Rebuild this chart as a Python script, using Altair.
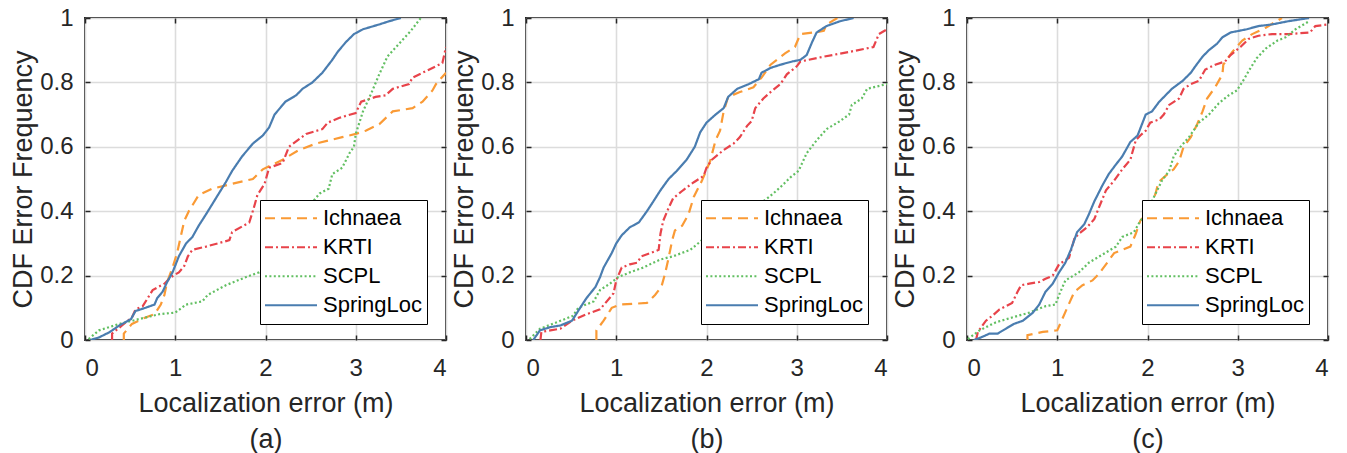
import altair as alt
import pandas as pd

SERIES = ["Ichnaea", "KRTI", "SCPL", "SpringLoc"]
COLORS = ["#FA9A35", "#E8434A", "#62BF62", "#4A7DB0"]
DASHES = [[10, 6], [8, 3, 2, 3], [2, 2.4], [1, 0]]
PANEL_TAGS = ["(a)", "(b)", "(c)"]
X_TICKS = [0, 1, 2, 3, 4]
Y_TICKS = [0, 0.2, 0.4, 0.6, 0.8, 1]

# ---- panel (a) ----
a_ich_x = [0.43, 0.43, 0.52, 0.67, 0.77, 0.84, 0.88, 0.91, 0.97, 1.02, 1.06, 1.10, 1.15, 1.26, 1.41, 1.63, 1.86, 1.97, 2.19, 2.37, 2.56, 2.85, 3.0, 3.11, 3.26, 3.41, 3.63, 3.74, 3.85, 3.89, 4.0]
a_ich_y = [0, 0.02, 0.05, 0.07, 0.08, 0.11, 0.14, 0.18, 0.225, 0.27, 0.32, 0.37, 0.40, 0.45, 0.47, 0.485, 0.50, 0.53, 0.56, 0.59, 0.61, 0.63, 0.64, 0.65, 0.67, 0.71, 0.72, 0.74, 0.775, 0.795, 0.83]
a_krti_x = [0.30, 0.30, 0.41, 0.52, 0.56, 0.64, 0.75, 0.88, 0.95, 1.04, 1.10, 1.14, 1.19, 1.34, 1.60, 1.63, 1.82, 1.87, 1.91, 1.99, 2.04, 2.19, 2.26, 2.45, 2.63, 2.69, 2.82, 3.0, 3.06, 3.22, 3.33, 3.41, 3.59, 3.63, 3.85, 3.96, 4.0]
a_krti_y = [0, 0.02, 0.045, 0.07, 0.095, 0.105, 0.155, 0.175, 0.195, 0.21, 0.23, 0.26, 0.28, 0.29, 0.31, 0.335, 0.365, 0.41, 0.45, 0.485, 0.535, 0.55, 0.60, 0.64, 0.655, 0.675, 0.69, 0.705, 0.74, 0.755, 0.76, 0.78, 0.795, 0.815, 0.845, 0.86, 0.91]
a_scpl_x = [0.04, 0.155, 0.38, 0.6, 0.82, 1.0, 1.12, 1.3, 1.36, 1.56, 1.78, 1.93, 2.0, 2.15, 2.3, 2.45, 2.54, 2.6, 2.7, 2.74, 2.85, 2.93, 2.98, 3.0, 3.08, 3.17, 3.26, 3.35, 3.48, 3.61, 3.72]
a_scpl_y = [0.003, 0.03, 0.05, 0.065, 0.08, 0.085, 0.11, 0.12, 0.14, 0.17, 0.195, 0.21, 0.235, 0.29, 0.35, 0.40, 0.435, 0.455, 0.47, 0.515, 0.535, 0.58, 0.60, 0.64, 0.71, 0.765, 0.825, 0.88, 0.92, 0.96, 1.0]
a_spr_x = [0.06, 0.155, 0.27, 0.38, 0.51, 0.56, 0.67, 0.77, 0.8, 0.86, 0.91, 0.97, 1.04, 1.12, 1.19, 1.26, 1.34, 1.45, 1.56, 1.63, 1.74, 1.86, 1.97, 2.04, 2.1, 2.22, 2.34, 2.41, 2.52, 2.63, 2.74, 2.8, 2.89, 2.98, 3.08, 3.26, 3.37, 3.5]
a_spr_y = [0, 0.008, 0.024, 0.045, 0.065, 0.09, 0.10, 0.11, 0.13, 0.15, 0.18, 0.21, 0.26, 0.30, 0.32, 0.355, 0.39, 0.44, 0.49, 0.525, 0.57, 0.61, 0.635, 0.66, 0.70, 0.74, 0.76, 0.78, 0.80, 0.83, 0.87, 0.895, 0.925, 0.95, 0.965, 0.98, 0.99, 1.0]

# ---- panel (b) ----
b_ich_x = [0.78, 0.78, 0.86, 0.95, 1.04, 1.34, 1.43, 1.5, 1.54, 1.58, 1.62, 1.65, 1.73, 1.8, 1.86, 1.95, 2.04, 2.1, 2.15, 2.19, 2.24, 2.37, 2.52, 2.61, 2.71, 2.87, 2.98, 3.04, 3.19, 3.3, 3.33, 3.45]
b_ich_y = [0, 0.03, 0.06, 0.10, 0.11, 0.115, 0.14, 0.165, 0.205, 0.255, 0.31, 0.34, 0.355, 0.39, 0.445, 0.495, 0.555, 0.62, 0.65, 0.71, 0.755, 0.77, 0.785, 0.815, 0.855, 0.89, 0.91, 0.95, 0.955, 0.96, 0.98, 1.0]
b_krti_x = [0.16, 0.17, 0.27, 0.38, 0.51, 0.67, 0.82, 0.97, 1.0, 1.06, 1.15, 1.23, 1.28, 1.38, 1.47, 1.49, 1.52, 1.58, 1.63, 1.74, 1.86, 1.97, 2.0, 2.06, 2.19, 2.3, 2.37, 2.45, 2.5, 2.54, 2.63, 2.71, 2.82, 2.89, 3.0, 3.04, 3.3, 3.59, 3.85, 3.91, 4.0]
b_krti_y = [0, 0.025, 0.03, 0.035, 0.06, 0.08, 0.095, 0.145, 0.185, 0.225, 0.235, 0.24, 0.26, 0.27, 0.28, 0.33, 0.37, 0.41, 0.44, 0.465, 0.49, 0.51, 0.535, 0.56, 0.59, 0.61, 0.63, 0.665, 0.68, 0.72, 0.75, 0.77, 0.795, 0.825, 0.85, 0.865, 0.88, 0.895, 0.91, 0.95, 0.965]
b_scpl_x = [0.04, 0.155, 0.34, 0.52, 0.58, 0.75, 0.82, 0.93, 1.02, 1.15, 1.3, 1.41, 1.49, 1.63, 1.82, 1.95, 2.2, 2.45, 2.65, 2.74, 2.82, 2.93, 3.02, 3.11, 3.22, 3.33, 3.48, 3.58, 3.61, 3.72, 3.78, 4.0]
b_scpl_y = [0.003, 0.035, 0.055, 0.075, 0.10, 0.12, 0.155, 0.175, 0.195, 0.21, 0.225, 0.24, 0.25, 0.26, 0.28, 0.31, 0.35, 0.40, 0.435, 0.455, 0.475, 0.505, 0.525, 0.58, 0.62, 0.655, 0.68, 0.70, 0.73, 0.75, 0.78, 0.795]
b_spr_x = [0.08, 0.155, 0.27, 0.38, 0.51, 0.6, 0.67, 0.77, 0.82, 0.86, 0.95, 1.0, 1.06, 1.15, 1.25, 1.34, 1.41, 1.49, 1.58, 1.67, 1.78, 1.87, 1.93, 2.0, 2.1, 2.19, 2.24, 2.34, 2.47, 2.58, 2.61, 2.71, 2.82, 2.95, 3.04, 3.11, 3.17, 3.22, 3.33, 3.48, 3.63]
b_spr_y = [0, 0.03, 0.04, 0.045, 0.06, 0.10, 0.13, 0.165, 0.195, 0.225, 0.27, 0.30, 0.325, 0.35, 0.365, 0.40, 0.43, 0.465, 0.50, 0.525, 0.56, 0.60, 0.645, 0.675, 0.70, 0.72, 0.755, 0.78, 0.795, 0.81, 0.83, 0.845, 0.855, 0.865, 0.87, 0.885, 0.925, 0.955, 0.975, 0.99, 1.0]

# ---- panel (c) ----
c_ich_x = [0.67, 0.67, 0.84, 1.0, 1.04, 1.11, 1.19, 1.28, 1.39, 1.46, 1.54, 1.63, 1.72, 1.81, 1.87, 1.92, 2.01, 2.09, 2.12, 2.2, 2.29, 2.35, 2.4, 2.48, 2.55, 2.61, 2.66, 2.75, 2.83, 2.84, 2.94, 3.05, 3.16, 3.31, 3.49]
c_ich_y = [0, 0.015, 0.025, 0.03, 0.055, 0.10, 0.15, 0.17, 0.185, 0.205, 0.235, 0.27, 0.28, 0.29, 0.33, 0.37, 0.40, 0.455, 0.49, 0.51, 0.53, 0.555, 0.60, 0.63, 0.67, 0.71, 0.75, 0.785, 0.825, 0.855, 0.895, 0.93, 0.95, 0.97, 1.0]
c_krti_x = [0.1, 0.12, 0.21, 0.28, 0.36, 0.43, 0.5, 0.56, 0.6, 0.69, 0.8, 0.87, 0.95, 1.02, 1.13, 1.19, 1.24, 1.33, 1.41, 1.46, 1.54, 1.63, 1.72, 1.81, 1.87, 1.92, 1.98, 2.03, 2.13, 2.18, 2.24, 2.35, 2.4, 2.48, 2.57, 2.64, 2.75, 2.86, 2.92, 3.03, 3.12, 3.23, 3.38, 3.56, 3.8, 3.86, 4.0]
c_krti_y = [0, 0.025, 0.06, 0.075, 0.095, 0.105, 0.115, 0.15, 0.17, 0.175, 0.18, 0.19, 0.20, 0.235, 0.255, 0.315, 0.33, 0.35, 0.375, 0.41, 0.465, 0.495, 0.53, 0.56, 0.62, 0.635, 0.65, 0.675, 0.685, 0.70, 0.73, 0.75, 0.78, 0.795, 0.805, 0.84, 0.855, 0.865, 0.885, 0.91, 0.935, 0.945, 0.95, 0.95, 0.955, 0.975, 0.98]
c_scpl_x = [0.01, 0.14, 0.32, 0.5, 0.69, 0.87, 0.98, 1.02, 1.09, 1.24, 1.35, 1.5, 1.65, 1.72, 1.85, 1.92, 1.99, 2.09, 2.16, 2.24, 2.29, 2.35, 2.46, 2.57, 2.68, 2.79, 2.9, 2.99, 3.07, 3.12, 3.21, 3.31, 3.44, 3.53, 3.64, 3.79]
c_scpl_y = [0.003, 0.03, 0.055, 0.07, 0.085, 0.105, 0.11, 0.14, 0.185, 0.21, 0.24, 0.265, 0.29, 0.32, 0.335, 0.37, 0.395, 0.455, 0.495, 0.525, 0.57, 0.595, 0.63, 0.675, 0.70, 0.735, 0.76, 0.775, 0.81, 0.835, 0.875, 0.905, 0.93, 0.94, 0.965, 0.99]
c_spr_x = [0.08, 0.155, 0.25, 0.34, 0.43, 0.52, 0.62, 0.73, 0.8, 0.87, 0.95, 1.02, 1.09, 1.15, 1.22, 1.3, 1.35, 1.41, 1.5, 1.57, 1.65, 1.72, 1.81, 1.89, 1.98, 2.05, 2.13, 2.2, 2.27, 2.39, 2.48, 2.53, 2.61, 2.68, 2.77, 2.83, 2.92, 3.01, 3.1, 3.23, 3.38, 3.56, 3.79]
c_spr_y = [0, 0.008, 0.02, 0.02, 0.035, 0.05, 0.06, 0.085, 0.11, 0.15, 0.175, 0.21, 0.24, 0.28, 0.335, 0.36, 0.39, 0.43, 0.48, 0.515, 0.545, 0.57, 0.615, 0.635, 0.70, 0.71, 0.74, 0.76, 0.78, 0.805, 0.83, 0.85, 0.88, 0.90, 0.92, 0.94, 0.955, 0.96, 0.965, 0.975, 0.98, 0.99, 1.0]

PANELS = [
    [(a_ich_x, a_ich_y), (a_krti_x, a_krti_y), (a_scpl_x, a_scpl_y), (a_spr_x, a_spr_y)],
    [(b_ich_x, b_ich_y), (b_krti_x, b_krti_y), (b_scpl_x, b_scpl_y), (b_spr_x, b_spr_y)],
    [(c_ich_x, c_ich_y), (c_krti_x, c_krti_y), (c_scpl_x, c_scpl_y), (c_spr_x, c_spr_y)],
]

FONT = "Liberation Sans"
TXT = "#262626"
W, H = 361, 322
TICK = 5


def make_df(series_list):
    rows = []
    for name, (xs, ys) in zip(SERIES, series_list):
        assert len(xs) == len(ys), (name, len(xs), len(ys))
        for i, (xv, yv) in enumerate(zip(xs, ys)):
            rows.append({"x": xv, "y": yv, "series": name, "order": i})
    return pd.DataFrame(rows)


XSCALE = alt.Scale(domain=[0, 4], nice=False, zero=False)
YSCALE = alt.Scale(domain=[0, 1], nice=False)


def panel(series_list, tag):
    df = make_df(series_list)
    legend = alt.Legend(
        title=None, orient="none", legendX=175, legendY=182,
        symbolType="stroke", symbolSize=2704, symbolStrokeWidth=2,
        clipHeight=28.5, rowPadding=0, padding=4, labelOffset=5,
        labelFont=FONT, labelFontSize=22, labelColor="black",
        strokeColor="black", fillColor="white", cornerRadius=0,
    )
    main = alt.Chart(df).mark_line(strokeWidth=2.2, clip=True).encode(
        x=alt.X("x:Q", scale=XSCALE,
                axis=alt.Axis(orient="bottom", values=X_TICKS, title=["Localization error (m)", tag],
                              offset=-TICK, ticks=True, tickSize=TICK, tickWidth=1.5, tickColor=TXT,
                              titleY=71.7 + TICK, titleBaseline="alphabetic", titleLineHeight=35.5,
                              labelBaseline="alphabetic", labelPadding=35)),
        y=alt.Y("y:Q", scale=YSCALE,
                axis=alt.Axis(orient="left", values=Y_TICKS, format="~g", title="CDF Error Frequency",
                              offset=-TICK, ticks=True, tickSize=TICK, tickWidth=1.5, tickColor=TXT,
                              titleX=-54 - TICK, titleY=H / 2, titleBaseline="alphabetic",
                              titleAlign="center", titleAngle=270,
                              labelBaseline="middle", labelPadding=12)),
        color=alt.Color("series:N", scale=alt.Scale(domain=SERIES, range=COLORS), legend=legend),
        strokeDash=alt.StrokeDash("series:N", scale=alt.Scale(domain=SERIES, range=DASHES), legend=legend),
        order=alt.Order("order:Q"),
    )
    ticks_layer = alt.Chart(df).mark_line(opacity=0).encode(
        x=alt.X("x:Q", scale=XSCALE,
                axis=alt.Axis(orient="top", values=X_TICKS, title=None, labels=False, grid=False,
                              offset=-TICK, ticks=True, tickSize=TICK, tickWidth=1.5, tickColor=TXT)),
        y=alt.Y("y:Q", scale=YSCALE,
                axis=alt.Axis(orient="right", values=Y_TICKS, title=None, labels=False, grid=False,
                              offset=-TICK, ticks=True, tickSize=TICK, tickWidth=1.5, tickColor=TXT)),
        detail="series:N",
    )
    return alt.layer(main, ticks_layer).resolve_axis(x="independent", y="independent").properties(
        width=W, height=H)


charts = [panel(s, t) for s, t in zip(PANELS, PANEL_TAGS)]

chart = alt.hconcat(*charts, spacing=80, bounds="flush").resolve_scale(
    color="independent", strokeDash="independent"
).resolve_legend(
    color="independent", strokeDash="independent"
).properties(
    padding={"left": 8, "top": 5, "right": 5, "bottom": 0},
    background="white",
).configure_view(
    stroke=TXT, strokeWidth=2
).configure_axis(
    grid=True, gridColor="#DCDCDC", gridWidth=1.6, domain=False, ticks=False,
    labelFont=FONT, labelFontSize=24, labelColor=TXT,
    titleFont=FONT, titleFontSize=27, titleColor=TXT, titleFontWeight="normal",
)

chart.save("out.html", embed_options={"renderer": "svg", "actions": False})
